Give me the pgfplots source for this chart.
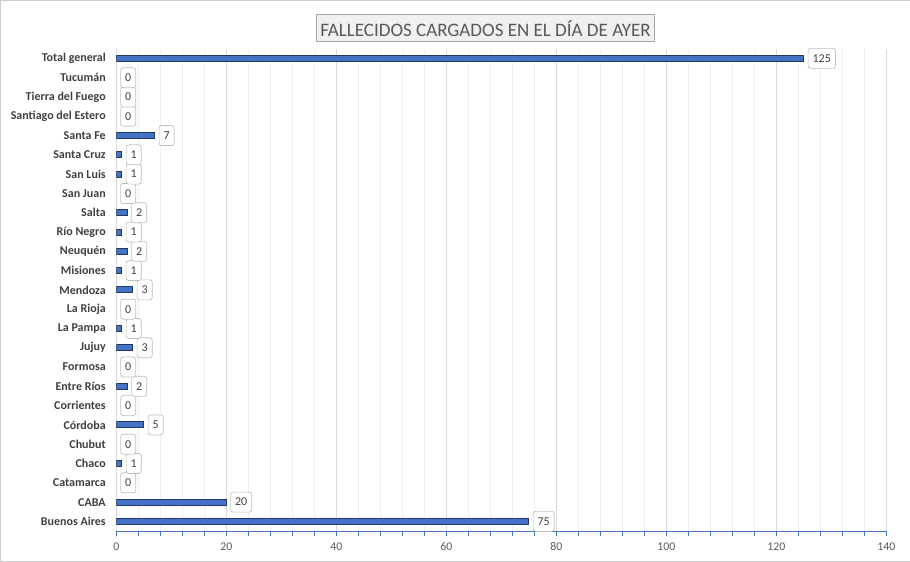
\documentclass[border=0pt]{standalone}
\usepackage{pgfplots}
\pgfplotsset{compat=1.18}
\usepackage{fontspec}
\setmainfont{Carlito}
\definecolor{barfill}{HTML}{4472C4}
\definecolor{barline}{HTML}{1F3864}
\definecolor{labelgray}{HTML}{595959}
\definecolor{darklabel}{HTML}{404040}
\definecolor{majgrid}{HTML}{D9D9D9}
\definecolor{mingrid}{HTML}{EFEFEF}
\begin{document}
\begin{tikzpicture}[x=1pt,y=1pt]
\draw[draw=black!20, fill=white] (0.5,0.5) rectangle (909.5,561.5);
\begin{axis}[
  at={(116.5pt,31pt)}, anchor=south west,
  scale only axis, width=769.5pt, height=482pt,
  xmin=0, xmax=140, ymin=-0.5, ymax=24.5,
  /pgf/number format/assume math mode=true,
  axis x line*=bottom, axis y line*=left,
  x axis line style={draw=barfill, line width=0.8pt, -},
  y axis line style={draw=none},
  xtick={0,20,...,140}, minor x tick num=4,
  xmajorgrids, xminorgrids,
  major grid style={draw=majgrid, line width=0.8pt},
  minor grid style={draw=mingrid, line width=0.8pt},
  tick align=outside,
  major tick length=5pt, minor tick length=5pt,
  xtick style={draw=barfill, line width=0.8pt},
  ytick style={draw=none},
  ytick={0,...,24},
  yticklabels={Buenos Aires, CABA, Catamarca, Chaco, Chubut, Córdoba, Corrientes, Entre Ríos, Formosa, Jujuy, La Pampa, La Rioja, Mendoza, Misiones, Neuquén, Río Negro, Salta, San Juan, San Luis, Santa Cruz, Santa Fe, Santiago del Estero, Tierra del Fuego, Tucumán, Total general},
  xticklabel style={font=\fontsize{11.8}{13}\selectfont, text=labelgray, yshift=-3pt},
  yticklabel style={font=\bfseries\fontsize{12}{14}\selectfont, text=darklabel, xshift=-2pt},
]
% bars (non-zero values only; zero bars are invisible)
\addplot[xbar, bar shift=0pt, bar width=6pt, fill=barfill, draw=barline, line width=0.9pt] coordinates {
(75,0) (20,1) (1,3) (5,5) (2,7) (3,9) (1,10) (3,12) (1,13) (2,14) (1,15) (2,16) (1,18) (1,19) (7,20) (125,24)
};
% data labels for all categories
\addplot[xbar, bar shift=0pt, bar width=6pt, draw=none, fill=none,
  nodes near coords,
  nodes near coords style={anchor=west, xshift=4pt, draw=black!25, line width=0.7pt, rounded corners=2.5pt, fill=white, inner xsep=4.5pt, minimum height=20pt, text=darklabel, font=\fontsize{12}{14}\selectfont}
] coordinates {
(75,0) (20,1) (0,2) (1,3) (0,4) (5,5) (0,6) (2,7) (0,8) (3,9) (1,10) (0,11) (3,12) (1,13) (2,14) (1,15) (2,16) (0,17) (1,18) (1,19) (7,20) (0,21) (0,22) (0,23) (125,24)
};
\end{axis}
\node[draw=black!35, fill=black!6, line width=0.8pt, inner xsep=4pt, minimum height=27pt, text=labelgray, font=\fontsize{19}{22}\selectfont] at (485.5,533.5) {FALLECIDOS CARGADOS EN EL DÍA DE AYER};
\end{tikzpicture}
\end{document}
